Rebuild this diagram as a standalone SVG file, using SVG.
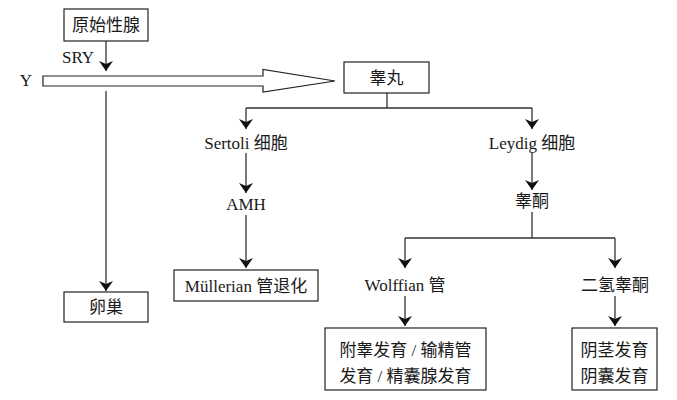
<svg xmlns="http://www.w3.org/2000/svg" width="677" height="400" viewBox="0 0 677 400">
<defs>
<style>
.t{font-family:"Liberation Serif","Noto Sans CJK SC",serif;font-size:17px;fill:#1a1a1a;text-anchor:middle;dominant-baseline:central}
.b{fill:#fff;stroke:#222;stroke-width:1.2}
.l{fill:none;stroke:#333;stroke-width:1.3}
</style>
<marker id="ah" viewBox="0 0 10 14" refX="10" refY="7" markerWidth="10" markerHeight="14" markerUnits="userSpaceOnUse" orient="auto">
<path d="M0,0 L10,7 L0,14 L3,7 Z" fill="#111"/>
</marker>
</defs>
<rect width="677" height="400" fill="#fff"/>
<g id="connectors">
<path class="l" d="M106,41 V71" marker-end="url(#ah)"/>
<path class="l" d="M106,91 V291" marker-end="url(#ah)"/>
<path class="l" d="M387,93 V108 M246,108 H532"/>
<path class="l" d="M246,108 V129" marker-end="url(#ah)"/>
<path class="l" d="M532,108 V129" marker-end="url(#ah)"/>
<path class="l" d="M246,153 V193" marker-end="url(#ah)"/>
<path class="l" d="M246,215 V268" marker-end="url(#ah)"/>
<path class="l" d="M532,153 V190" marker-end="url(#ah)"/>
<path class="l" d="M532,212 V238 M405,238 H615"/>
<path class="l" d="M405,238 V268" marker-end="url(#ah)"/>
<path class="l" d="M615,238 V268" marker-end="url(#ah)"/>
<path class="l" d="M405,296 V326" marker-end="url(#ah)"/>
<path class="l" d="M615,296 V326" marker-end="url(#ah)"/>
<path d="M43,76 H263 V69.5 L335,81 L263,92 V86 H43 Z" fill="#fff" stroke="#222" stroke-width="1.2"/>
</g>
<g id="label-sry"><text class="t" x="78" y="57" font-size="15">SRY</text></g>
<g id="label-y"><text class="t" x="26" y="80" font-size="15">Y</text></g>
<g id="node-gonad"><rect class="b" x="64" y="9" width="84" height="32"/><text class="t" x="106" y="25">原始性腺</text></g>
<g id="node-testis"><rect class="b" x="344" y="62" width="85" height="31"/><text class="t" x="386.5" y="78">睾丸</text></g>
<g id="node-ovary"><rect class="b" x="64" y="292" width="84" height="30"/><text class="t" x="106" y="307">卵巢</text></g>
<g id="node-sertoli"><text class="t" x="246" y="143" font-size="15.5">Sertoli 细胞</text></g>
<g id="node-leydig"><text class="t" x="532" y="143" font-size="15.5">Leydig 细胞</text></g>
<g id="node-amh"><text class="t" x="246" y="204" font-size="15.5">AMH</text></g>
<g id="node-testosterone"><text class="t" x="532" y="201" font-size="16">睾酮</text></g>
<g id="node-mullerian"><rect class="b" x="174" y="270" width="144" height="31"/><text class="t" x="246" y="286" font-size="16">Müllerian 管退化</text></g>
<g id="node-wolffian"><text class="t" x="405" y="285" font-size="16">Wolffian 管</text></g>
<g id="node-dht"><text class="t" x="615" y="285" font-size="16.5">二氢睾酮</text></g>
<g id="node-epididymis"><rect class="b" x="325" y="328" width="161" height="62"/><text class="t" x="405.5" y="350">附睾发育 / 输精管</text><text class="t" x="405.5" y="376">发育 / 精囊腺发育</text></g>
<g id="node-penis"><rect class="b" x="572" y="328" width="85" height="62"/><text class="t" x="614.5" y="350">阴茎发育</text><text class="t" x="614.5" y="376">阴囊发育</text></g>
</svg>
